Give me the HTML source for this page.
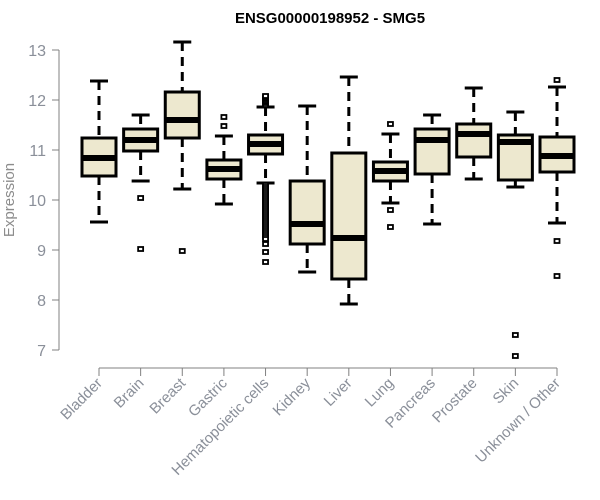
<!DOCTYPE html>
<html><head><meta charset="utf-8"><style>
html,body{margin:0;padding:0;background:#fff;width:600px;height:500px;overflow:hidden}
text{font-family:"Liberation Sans",sans-serif}
</style></head><body>
<svg id="chart" width="600" height="500" xmlns="http://www.w3.org/2000/svg">
<text x="330" y="23" text-anchor="middle" font-size="15" font-weight="bold" fill="#000">ENSG00000198952 - SMG5</text>
<text transform="translate(14,200) rotate(-90)" text-anchor="middle" font-size="15" fill="#8c8c8c">Expression</text>
<g id="axes"></g>
<g id="boxes"></g>
</svg>
<script>
const categories=["Bladder","Brain","Breast","Gastric","Hematopoietic cells","Kidney","Liver","Lung","Pancreas","Prostate","Skin","Unknown / Other"];
const whiskLow=[9.56,10.38,10.22,9.92,10.34,8.56,7.92,9.94,9.52,10.42,10.26,9.54];
const q1=[10.48,10.98,11.24,10.42,10.92,9.12,8.42,10.38,10.52,10.86,10.4,10.56];
const medians=[10.84,11.2,11.6,10.62,11.12,9.52,9.24,10.58,11.2,11.32,11.16,10.88];
const q3=[11.24,11.42,12.16,10.8,11.3,10.38,10.94,10.76,11.42,11.52,11.3,11.26];
const whiskHigh=[12.38,11.7,13.16,11.28,11.86,11.88,12.46,11.32,11.7,12.24,11.76,12.26];
const outliers=[[],[10.04,9.02],[8.98],[11.66,11.48],
[11.9,11.94,11.97,12.0,12.03,12.06,12.08,10.3,10.26,10.22,10.18,10.14,10.1,10.06,10.02,9.98,9.94,9.9,9.86,9.82,9.78,9.74,9.7,9.66,9.62,9.58,9.54,9.5,9.46,9.42,9.38,9.34,9.3,9.26,9.22,9.12,8.96,8.76],
[],[],[11.52,9.8,9.46],[],[],[7.3,6.88],[12.4,9.18,8.48]];
const yTicks=[7,8,9,10,11,12,13];
const NS="http://www.w3.org/2000/svg";
function y(v){return 50+(13-v)*50;}
function x(i){return 99+i*(557-99)/11;}
function mk(tag,attrs,parent){const e=document.createElementNS(NS,tag);for(const k in attrs)e.setAttribute(k,attrs[k]);parent.appendChild(e);return e;}
const axes=document.getElementById('axes'),boxes=document.getElementById('boxes');
let a=mk('line',{x1:59,x2:59,y1:y(13),y2:y(7),stroke:'#808080'},axes);


yTicks.forEach(t=>{
 let l=mk('line',{x1:52,x2:59,y1:y(t),y2:y(t),stroke:'#808080'},axes);
 
 
 let tx=mk('text',{x:46,y:y(t)+6,'text-anchor':'end','font-size':16,fill:'#8a8f99'},axes);
 tx.textContent=t;
 
 
});
let xa=mk('line',{x1:x(0),x2:x(11),y1:368,y2:368,stroke:'#808080'},axes);


categories.forEach((c,i)=>{
 const cx=x(i),w=17;
 let t=mk('line',{x1:cx,x2:cx,y1:368,y2:376,stroke:'#808080'},axes);
 
 
 let lb=mk('text',{transform:`translate(${cx+4},${384}) rotate(-45)`,'text-anchor':'end','font-size':15,fill:'#8a8f99'},axes);
 lb.textContent=c;
 
 
 const g=mk('g',{},boxes);
 
 
 mk('line',{x1:cx,x2:cx,y1:y(whiskHigh[i]),y2:y(q3[i]),stroke:'#000','stroke-width':3,'stroke-dasharray':'9,6'},g);
 mk('line',{x1:cx,x2:cx,y1:y(q1[i]),y2:y(whiskLow[i]),stroke:'#000','stroke-width':3,'stroke-dasharray':'9,6'},g);
 mk('line',{x1:cx-9,x2:cx+9,y1:y(whiskHigh[i]),y2:y(whiskHigh[i]),stroke:'#000','stroke-width':3},g);
 mk('line',{x1:cx-9,x2:cx+9,y1:y(whiskLow[i]),y2:y(whiskLow[i]),stroke:'#000','stroke-width':3},g);
 mk('rect',{x:cx-w,y:y(q3[i]),width:2*w,height:y(q1[i])-y(q3[i]),fill:'#ede8cf',stroke:'#000','stroke-width':3},g);
 mk('line',{x1:cx-w,x2:cx+w,y1:y(medians[i]),y2:y(medians[i]),stroke:'#000','stroke-width':6},g);
 outliers[i].forEach(o=>{
  let r=mk('rect',{x:cx-2.5,y:y(o)-2,width:5,height:4,fill:'#fff',stroke:'#000','stroke-width':1.8},g);
  
  
 });
});
</script>
</body></html>
